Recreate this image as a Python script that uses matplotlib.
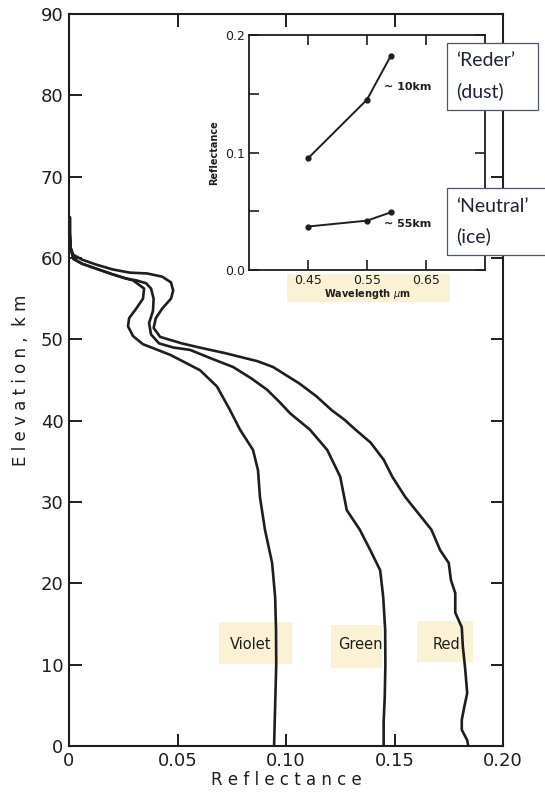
import matplotlib
matplotlib.use("Agg")
import matplotlib.pyplot as plt
from matplotlib.patches import Rectangle

# Reflectance profiles vs. elevation for the three filters
violet_refl = [0.0004, 0.0004, 0.0008, 0.002, 0.006, 0.0124, 0.020, 0.026, 0.0295, 0.0346,
               0.0341, 0.0309, 0.0277, 0.0272, 0.0295, 0.0341, 0.0466, 0.0604, 0.0682, 0.0742,
               0.0788, 0.0848, 0.0871, 0.088, 0.0903, 0.0936, 0.095, 0.0954, 0.0955, 0.095, 0.0945]
violet_elev = [65, 63, 61.2, 59.9, 59.3, 58.7, 58.0, 57.5, 57.25, 56.25,
               55.0, 53.75, 52.6, 51.6, 50.4, 49.4, 48.1, 46.2, 44.2, 41.3,
               38.9, 36.4, 33.9, 30.6, 26.6, 22.5, 18.3, 14.3, 10, 5, 0]

green_refl = [0.0004, 0.0004, 0.0008, 0.002, 0.006, 0.0124, 0.020, 0.026, 0.031, 0.0355,
              0.0378, 0.039, 0.0387, 0.0369, 0.0378, 0.0415, 0.048, 0.0558, 0.066, 0.0756,
              0.084, 0.0913, 0.097, 0.1019, 0.111, 0.119, 0.125, 0.128, 0.131, 0.134,
              0.1388, 0.1434, 0.1448, 0.1457, 0.1458, 0.1455, 0.145, 0.145]
green_elev = [65, 63, 61.2, 59.9, 59.3, 58.7, 58.0, 57.5, 57.25, 56.9,
              56.25, 55.0, 53.5, 52.0, 50.6, 49.5, 49.0, 48.7, 47.6, 46.6,
              45.2, 43.8, 42.3, 40.9, 38.9, 36.4, 33.1, 29.0, 27.8, 26.6,
              24.1, 21.6, 18.3, 14.3, 10, 6, 3, 0]

red_refl = [0.0004, 0.0004, 0.0008, 0.002, 0.006, 0.0124, 0.020, 0.028, 0.036, 0.043,
            0.047, 0.048, 0.047, 0.043, 0.040, 0.039, 0.042, 0.052, 0.060, 0.072,
            0.087, 0.094, 0.100, 0.106, 0.114, 0.121, 0.127, 0.132, 0.139, 0.145,
            0.149, 0.155, 0.161, 0.167, 0.171, 0.175, 0.176, 0.178, 0.178, 0.181,
            0.1815, 0.1825, 0.1835, 0.182, 0.181, 0.181, 0.1835, 0.184]
red_elev = [65, 63, 61.2, 60.4, 59.8, 59.2, 58.6, 58.2, 58.1, 57.7,
            57.0, 56.0, 55.0, 53.8, 52.6, 51.4, 50.3, 49.5, 49.0, 48.3,
            47.3, 46.6, 45.6, 44.6, 43.0, 41.3, 40.1, 38.9, 37.3, 35.2,
            33.1, 30.6, 28.6, 26.6, 24.1, 22.5, 20.4, 18.8, 16.4, 14.6,
            12.2, 9.7, 6.5, 4.6, 3.2, 2.0, 0.7, 0]

# Spectra at two elevations (inset)
wavelength = [0.45, 0.55, 0.59]
refl_10km = [0.095, 0.145, 0.182]
refl_55km = [0.037, 0.042, 0.049]

x_ticks = [0, 0.05, 0.10, 0.15, 0.20]
x_ticklabels = ["0", "0.05", "0.10", "0.15", "0.20"]
y_ticks = list(range(0, 91, 10))

W, H = 545, 793
fig = plt.figure(figsize=(W / 100, H / 100), dpi=100)
fig.patch.set_facecolor("white")

HIGHLIGHT = "#fbf1d4"
INK = "#1e1e1e"


def px_rect(x0, y0, x1, y1, **kw):
    # rectangle given in pixel coordinates (origin top-left)
    return Rectangle((x0 / W, 1 - y1 / H), (x1 - x0) / W, (y1 - y0) / H,
                     transform=fig.transFigure, **kw)


# highlighter marks behind some labels
for r in [(287, 274, 450, 302), (219, 622, 292, 664), (331, 625, 382, 668), (417, 621, 473, 662)]:
    fig.patches.append(px_rect(*r, facecolor=HIGHLIGHT, edgecolor="none", zorder=-5))

ax = fig.add_axes([69 / W, 1 - 746 / H, 434 / W, 732 / H], zorder=1)
ax.patch.set_alpha(0)
for c_refl, c_elev in [(violet_refl, violet_elev), (green_refl, green_elev), (red_refl, red_elev)]:
    ax.plot(c_refl, c_elev, color=INK, lw=1.9, solid_joinstyle="round", solid_capstyle="round")

ax.set_xlim(0, 0.2)
ax.set_ylim(0, 90)
ax.set_xticks(x_ticks)
ax.set_xticklabels(x_ticklabels)
ax.set_yticks(y_ticks)
ax.tick_params(direction="in", length=9, width=1.4, labelsize=13, colors=INK,
               top=True, right=True, pad=4)
for s in ax.spines.values():
    s.set_linewidth(1.5)
    s.set_color(INK)
ax.set_xlabel("R e f l e c t a n c e", fontsize=12, color=INK, labelpad=1)
ax.set_ylabel("E l e v a t i o n ,  k m", fontsize=12, color=INK, labelpad=8)

ax.text(0.0945 - 0.0012, 12.5, "Violet", ha="right", va="center", fontsize=10.5, color=INK)
ax.text(0.1457 - 0.0012, 12.5, "Green", ha="right", va="center", fontsize=10.5, color=INK)
ax.text(0.1815 - 0.0012, 12.5, "Red", ha="right", va="center", fontsize=10.5, color=INK)

# inset: reflectance spectra
ax2 = fig.add_axes([249 / W, 1 - 270 / H, 236 / W, 235 / H], zorder=2)
ax2.patch.set_alpha(0)
ax2.plot(wavelength, refl_10km, color=INK, lw=1.4, marker="o", ms=3.5)
ax2.plot(wavelength, refl_55km, color=INK, lw=1.4, marker="o", ms=3.5)
ax2.set_xlim(0.35, 0.75)
ax2.set_ylim(0, 0.2)
ax2.set_xticks([0.45, 0.55, 0.65])
ax2.set_xticklabels(["0.45", "0.55", "0.65"])
ax2.set_yticks([0, 0.05, 0.1, 0.15, 0.2])
ax2.set_yticklabels(["0.0", "", "0.1", "", "0.2"])
ax2.tick_params(direction="in", length=7, width=1.2, labelsize=9, colors=INK,
                top=True, right=True, pad=3)
for s in ax2.spines.values():
    s.set_linewidth(1.3)
    s.set_color(INK)
ax2.set_xlabel(r"Wavelength $\mu$m", fontsize=7, fontweight="bold", color=INK, labelpad=0)
ax2.set_ylabel("Reflectance", fontsize=7, fontweight="bold", color=INK, labelpad=4)
ax2.text(0.578, 0.156, "~ 10km", fontsize=8, fontweight="bold", va="center", color=INK)
ax2.text(0.578, 0.039, "~ 55km", fontsize=8, fontweight="bold", va="center", color=INK)

# annotation boxes
for (x0, y0, x1, y1), lines in [((447, 43, 538, 110), ["\u2018Reder\u2019", "(dust)"]),
                                 ((447, 188, 548, 255), ["\u2018Neutral\u2019", "(ice)"])]:
    fig.patches.append(px_rect(x0, y0, x1, y1, facecolor="white", edgecolor="#4a5668",
                               lw=0.9, zorder=5))
    fig.text((x0 + 9) / W, 1 - (y0 + 18) / H, lines[0], fontsize=14, family="Lato",
             color="#1c2333", va="center", zorder=6)
    fig.text((x0 + 9) / W, 1 - (y0 + 48) / H, lines[1], fontsize=14, family="Lato",
             color="#1c2333", va="center", zorder=6)

fig.savefig("out.png", dpi=100)
